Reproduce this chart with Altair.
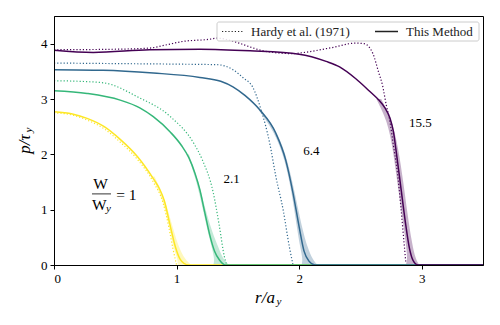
import altair as alt
import pandas as pd

FONT = "Liberation Serif"

x_ticks = [0, 1, 2, 3]
y_ticks = [0, 1, 2, 3, 4]

colors = {"1": "#fde725", "2.1": "#35b779", "6.4": "#31688e", "15.5": "#440154"}

# ---- This Method (solid) ----
m1_x = [0, 0.15, 0.27, 0.41, 0.54, 0.68, 0.81, 0.86, 0.90, 0.95, 0.99, 1.03, 1.06, 1.10, 3.5]
m1_y = [2.77, 2.73, 2.65, 2.50, 2.27, 1.96, 1.56, 1.38, 1.16, 0.69, 0.33, 0.10, 0.03, 0.0, 0.0]
m2_x = [0, 0.27, 0.54, 0.70, 0.81, 0.95, 1.04, 1.10, 1.15, 1.19, 1.23, 1.27, 1.31, 1.35, 1.40, 3.5]
m2_y = [3.15, 3.10, 2.98, 2.84, 2.68, 2.40, 2.16, 1.94, 1.66, 1.36, 0.95, 0.55, 0.25, 0.09, 0.0, 0.0]
m3_x = [0, 0.4, 0.81, 1.19, 1.36, 1.46, 1.56, 1.68, 1.81, 1.89, 1.95, 2.00, 2.04, 2.08, 2.13, 3.5]
m3_y = [3.53, 3.52, 3.47, 3.39, 3.32, 3.22, 3.06, 2.80, 2.38, 1.90, 1.30, 0.69, 0.25, 0.07, 0.0, 0.0]
m4_x = [0, 0.32, 0.78, 1.19, 1.60, 2.0, 2.22, 2.33, 2.46, 2.57, 2.65, 2.70, 2.74, 2.77, 2.79,
        2.83, 2.87, 2.90, 2.93, 2.97, 3.5]
m4_y = [3.88, 3.84, 3.89, 3.90, 3.87, 3.81, 3.68, 3.58, 3.37, 3.15, 2.98, 2.84, 2.66, 2.40, 2.08,
        1.40, 0.72, 0.30, 0.08, 0.0, 0.0]

# ---- Hardy et al. (1971) (dotted) ----
h1_x = [0, 0.15, 0.27, 0.41, 0.54, 0.68, 0.81, 0.89, 0.94, 0.97, 1.0]
h1_y = [2.75, 2.71, 2.62, 2.46, 2.22, 1.91, 1.50, 1.12, 0.65, 0.30, 0.0]
h2_x = [0, 0.2, 0.41, 0.68, 0.95, 1.14, 1.21, 1.30, 1.35, 1.39, 1.41]
h2_y = [3.33, 3.32, 3.29, 3.04, 2.68, 2.20, 1.90, 1.30, 0.69, 0.15, 0.0]
h3_x = [0, 0.5, 1.0, 1.33, 1.46, 1.55, 1.62, 1.69, 1.76, 1.81, 1.87, 1.92, 1.95]
h3_y = [3.65, 3.64, 3.63, 3.62, 3.53, 3.37, 3.22, 2.80, 2.20, 1.60, 0.99, 0.33, 0.0]
h4_x = [0, 0.51, 0.78, 0.92, 1.05, 1.27, 1.33, 1.51, 1.60, 1.73, 1.95, 2.00, 2.27, 2.46, 2.53,
        2.60, 2.65, 2.68, 2.71, 2.74, 2.77, 2.80, 2.83, 2.85, 2.87]
h4_y = [3.89, 3.90, 3.92, 3.98, 4.04, 4.08, 4.10, 4.01, 3.94, 3.86, 3.82, 3.83, 3.93, 4.01, 4.00,
        3.83, 3.47, 3.25, 2.90, 2.60, 2.15, 1.70, 1.05, 0.55, 0.05]

# ---- uncertainty bands (by pressure level) ----
b1_y = [0, 0.1, 0.3, 0.7, 1.2, 1.6]
b1_lo = [1.01, 1.01, 0.975, 0.94, 0.885, 0.80]
b1_hi = [1.12, 1.07, 1.02, 0.965, 0.905, 0.82]
b2_y = [0, 0.1, 0.3, 0.6, 1.0, 1.5, 2.0]
b2_lo = [1.30, 1.31, 1.29, 1.255, 1.215, 1.165, 1.09]
b2_hi = [1.43, 1.38, 1.345, 1.29, 1.235, 1.18, 1.10]
b3_y = [0, 0.1, 0.3, 0.7, 1.3, 1.9, 2.4, 2.8]
b3_lo = [2.02, 2.03, 2.01, 1.98, 1.94, 1.885, 1.80, 1.67]
b3_hi = [2.15, 2.11, 2.07, 2.02, 1.965, 1.905, 1.825, 1.69]
b4_y = [0, 0.1, 0.4, 0.9, 1.5, 2.1, 2.6, 3.0]
b4_lo = [2.87, 2.885, 2.87, 2.84, 2.80, 2.765, 2.72, 2.63]
b4_hi = [2.98, 2.95, 2.92, 2.885, 2.85, 2.81, 2.76, 2.67]

labels = ["2.1", "6.4", "15.5"]
label_x = [1.45, 2.10, 2.99]
label_y = [1.56, 2.06, 2.57]

xs = alt.Scale(domain=[0, 3.5], nice=False)
ys = alt.Scale(domain=[0, 4.5], nice=False)
X = alt.X("x:Q", scale=xs, axis=alt.Axis(values=x_ticks, title=None, zindex=1))
Y = alt.Y("y:Q", scale=ys, axis=alt.Axis(values=y_ticks, title=None, zindex=1))

layers = []

bands = [("1", b1_y, b1_lo, b1_hi), ("2.1", b2_y, b2_lo, b2_hi),
         ("6.4", b3_y, b3_lo, b3_hi), ("15.5", b4_y, b4_lo, b4_hi)]
for key, by, lo, hi in bands:
    df = pd.DataFrame({"y": by, "x": lo, "x2": hi})
    layers.append(alt.Chart(df).mark_area(orient="horizontal", interpolate="basis",
                                          color=colors[key], opacity=0.3).encode(
        y=Y, x=X, x2="x2:Q"))

hardy = [("1", h1_x, h1_y), ("2.1", h2_x, h2_y), ("6.4", h3_x, h3_y), ("15.5", h4_x, h4_y)]
for key, hx, hy in hardy:
    df = pd.DataFrame({"x": hx, "y": hy, "i": range(len(hx))})
    layers.append(alt.Chart(df).mark_line(color=colors[key], strokeWidth=1.2,
                                          strokeDash=[1.2, 2], interpolate="monotone").encode(
        x=X, y=Y, order="i:Q"))

method = [("1", m1_x, m1_y), ("2.1", m2_x, m2_y), ("6.4", m3_x, m3_y), ("15.5", m4_x, m4_y)]
for key, mx, my in method:
    df = pd.DataFrame({"x": mx, "y": my, "i": range(len(mx))})
    layers.append(alt.Chart(df).mark_line(color=colors[key], strokeWidth=1.5,
                                          interpolate="monotone").encode(
        x=X, y=Y, order="i:Q"))

lab_df = pd.DataFrame({"x": label_x, "y": label_y, "t": labels})
layers.append(alt.Chart(lab_df).mark_text(font=FONT, fontSize=13, color="black").encode(
    x=X, y=Y, text="t:N"))

# fraction W / W_y = 1
frac_text = ["W", "W", "= 1"]
frac_x = [0.38, 0.37, 0.59]
frac_y = [1.46, 1.09, 1.27]
frac_df = pd.DataFrame({"x": frac_x, "y": frac_y, "t": frac_text})
layers.append(alt.Chart(frac_df).mark_text(font=FONT, fontSize=15.5, color="black",
                                           baseline="middle").encode(x=X, y=Y, text="t:N"))
sub_df = pd.DataFrame({"x": [0.445], "y": [1.02], "t": ["y"]})
layers.append(alt.Chart(sub_df).mark_text(font=FONT, fontSize=11, fontStyle="italic",
                                          color="black").encode(x=X, y=Y, text="t:N"))
bar_df = pd.DataFrame({"x": [0.31], "x2": [0.465], "y": [1.285]})
layers.append(alt.Chart(bar_df).mark_rule(color="black", strokeWidth=0.8).encode(
    x=X, x2="x2:Q", y=Y))

one = pd.DataFrame({"a": [0]})
# axis titles
layers.append(alt.Chart(one).mark_text(font=FONT, fontSize=17, fontStyle="italic", angle=270,
                                       color="black").encode(
    x=alt.value(-29), y=alt.value(128), text=alt.value("p/τ")))
layers.append(alt.Chart(one).mark_text(font=FONT, fontSize=11, fontStyle="italic", angle=270,
                                       color="black").encode(
    x=alt.value(-25), y=alt.value(114), text=alt.value("y")))
layers.append(alt.Chart(one).mark_text(font=FONT, fontSize=17, fontStyle="italic",
                                       color="black").encode(
    x=alt.value(211), y=alt.value(282), text=alt.value("r/a")))
layers.append(alt.Chart(one).mark_text(font=FONT, fontSize=11, fontStyle="italic",
                                       color="black").encode(
    x=alt.value(225), y=alt.value(286), text=alt.value("y")))

# legend
layers.append(alt.Chart(one).mark_rect(fill="white", fillOpacity=0.85, stroke="#cccccc",
                                       strokeWidth=1, cornerRadius=2).encode(
    x=alt.value(163), x2=alt.value(425), y=alt.value(6), y2=alt.value(25)))
layers.append(alt.Chart(one).mark_rule(color="#222222", strokeWidth=1.2, strokeDash=[1.2, 2]).encode(
    x=alt.value(168), x2=alt.value(190), y=alt.value(15.5)))
layers.append(alt.Chart(one).mark_rule(color="#222222", strokeWidth=1.5).encode(
    x=alt.value(321), x2=alt.value(344), y=alt.value(15.5)))
layers.append(alt.Chart(one).mark_text(font=FONT, fontSize=13, align="left", baseline="middle",
                                       color="#222222").encode(
    x=alt.value(197), y=alt.value(15.5), text=alt.value("Hardy et al. (1971)")))
layers.append(alt.Chart(one).mark_text(font=FONT, fontSize=13, align="left", baseline="middle",
                                       color="#222222").encode(
    x=alt.value(352), y=alt.value(15.5), text=alt.value("This Method")))

chart = alt.layer(*layers).properties(
    width=429, height=249, autosize="none",
    padding={"left": 46, "top": 8, "right": 9, "bottom": 52},
).configure_view(stroke="black", strokeWidth=1).configure_axis(
    labelFont=FONT, labelFontSize=13, labelColor="black", tickColor="black",
    domainColor="black", tickSize=4, grid=False, labelPadding=3, domainWidth=1,
)

chart.save("out.html", embed_options={"renderer": "svg", "actions": False})
